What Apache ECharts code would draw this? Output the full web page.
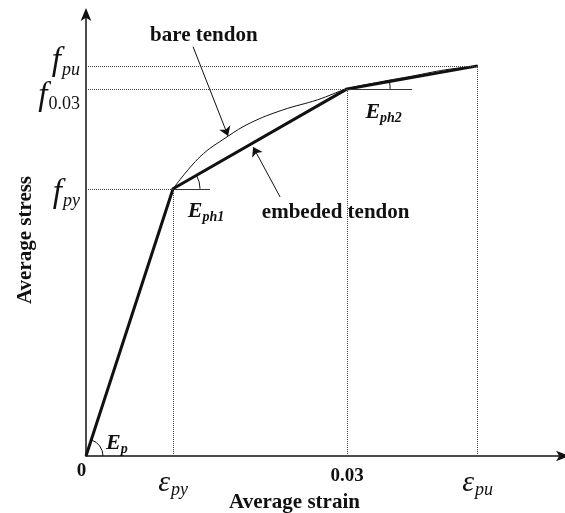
<!DOCTYPE html>
<html>
<head>
<meta charset="utf-8">
<script src="https://cdn.jsdelivr.net/npm/echarts@6/dist/echarts.min.js"></script>
<style>
  html, body { margin: 0; padding: 0; background: #fff; }
  #chart { width: 565px; height: 513px; }
</style>
</head>
<body>
<div id="chart"></div>
<script>
// tick positions (strain, normalised stress f/f_pu) and their labels
var strainTicks = [0, 0.01, 0.03, 0.045];
var strainTickLabels = ['0', 'ε_py', '0.03', 'ε_pu'];
var stressTicks = [0.685, 0.941, 1.0];
var stressTickLabels = ['f_py', 'f_0.03', 'f_pu'];

// embedded tendon: trilinear model
var embeddedStrain = [0, 0.01, 0.03, 0.045];
var embeddedStress = [0, 0.685, 0.941, 1.0];

// bare tendon: curved after yield (elastic part is shared with embedded line)
var bareStrain = [0.01, 0.0131, 0.0162, 0.0189, 0.0226, 0.0266, 0.03, 0.0338, 0.0375, 0.0413, 0.045];
var bareStress = [0.685, 0.767, 0.818, 0.854, 0.887, 0.913, 0.941, 0.959, 0.974, 0.990, 1.0];

var SERIF = '"Liberation Serif", "DejaVu Serif", serif';
var INK = '#111';

function pairs(xs, ys) {
  return xs.map(function (x, i) { return [x, ys[i]]; });
}

// 'f_py' -> '{symK|f}{subK|py}', plain numbers stay bold; K = tick index
function tickFormatter(values, labels) {
  return function (v) {
    for (var k = 0; k < values.length; k++) {
      if (Math.abs(values[k] - v) < 1e-6) {
        var s = labels[k], p = s.indexOf('_');
        if (p < 0) return '{num' + k + '|' + s + '}';
        var sub = s.slice(p + 1);
        var up = /^[0-9.]+$/.test(sub) ? 'n' : '';
        return '{sym' + k + '|' + s.slice(0, p) + '}{sub' + up + k + '|' + sub + '}';
      }
    }
    return '';
  };
}

function symStyle(size, pad) {
  return { fontFamily: SERIF, fontStyle: 'italic', fontSize: size, color: INK, padding: pad };
}
function subStyle(size, pad, upright) {
  return { fontFamily: SERIF, fontStyle: upright ? 'normal' : 'italic', fontSize: size, color: INK, padding: pad };
}
function numStyle(pad) {
  return { fontFamily: SERIF, fontWeight: 'bold', fontSize: 19, color: INK, padding: pad };
}

// angle markers: [x0, y0, x1, y1] -> arc between horizontal and line
var angleMarks = [
  [embeddedStrain[0], embeddedStress[0], embeddedStrain[1], embeddedStress[1]],
  [embeddedStrain[1], embeddedStress[1], embeddedStrain[2], embeddedStress[2]],
  [embeddedStrain[2], embeddedStress[2], embeddedStrain[3], embeddedStress[3]]
];
var arcRadius = [17, 27, 43];

var dotted = { type: 'dotted', color: '#444', width: 1 };

var chart = echarts.init(document.getElementById('chart'), null, { renderer: 'canvas' });

chart.setOption({
  backgroundColor: '#fff',
  animation: false,
  textStyle: { fontFamily: SERIF, color: INK },
  grid: { left: 86, right: 2, top: 14, bottom: 57, containLabel: false, outerBoundsMode: 'none' },
  xAxis: {
    type: 'value',
    min: 0,
    max: 0.0548,
    splitLine: { show: false },
    axisTick: { show: false },
    axisLine: {
      onZero: false,
      symbol: ['none', 'arrow'],
      symbolSize: [8, 13],
      symbolOffset: [0, 6],
      lineStyle: { color: INK, width: 1.5 }
    },
    axisLabel: {
      customValues: strainTicks,
      hideOverlap: false,
      showMinLabel: true,
      showMaxLabel: true,
      margin: 6,
      formatter: tickFormatter(strainTicks, strainTickLabels),
      rich: {
        num0: numStyle([0, 9, 6, 0]),
        num2: numStyle([5, 0, 0, 0]),
        sym1: symStyle(30, [5, 0, 0, 0]),
        sub1: subStyle(18, [19, 0, 0, 1]),
        sym3: symStyle(30, [5, 0, 0, 0]),
        sub3: subStyle(18, [19, 0, 0, 1])
      }
    },
    name: 'Average strain',
    nameLocation: 'middle',
    nameGap: 36,
    nameMoveOverlap: false,
    nameTextStyle: {
      fontFamily: SERIF, fontWeight: 'bold', fontSize: 21, color: INK,
      padding: [0, 60, 0, 0]
    }
  },
  yAxis: {
    type: 'value',
    min: 0,
    max: 1.133,
    splitLine: { show: false },
    axisTick: { show: false },
    axisLine: {
      onZero: false,
      symbol: ['none', 'arrow'],
      symbolSize: [8, 13],
      symbolOffset: [0, 6],
      lineStyle: { color: INK, width: 1.5 }
    },
    axisLabel: {
      customValues: stressTicks,
      hideOverlap: false,
      showMinLabel: true,
      showMaxLabel: true,
      margin: 6,
      formatter: tickFormatter(stressTicks, stressTickLabels),
      rich: {
        sym0: symStyle(33, [10, 0, 0, 0]),
        sub0: subStyle(18, [24, 0, 0, 1]),
        sym1: symStyle(33, [14, 0, 0, 0]),
        subn1: subStyle(18, [30, 0, 0, 1], true),
        sym2: symStyle(33, [0, 0, 10, 0]),
        sub2: subStyle(18, [8, 0, 0, 1])
      }
    },
    name: 'Average stress',
    nameLocation: 'middle',
    nameGap: 50,
    nameMoveOverlap: false,
    nameRotate: 90,
    nameTextStyle: {
      fontFamily: SERIF, fontWeight: 'bold', fontSize: 21, color: INK,
      padding: [0, 10, 0, 0]
    }
  },
  series: [
    {
      name: 'bare tendon',
      type: 'line',
      data: pairs(bareStrain, bareStress),
      smooth: 0.4,
      symbol: 'none',
      lineStyle: { color: INK, width: 1 },
      z: 3,
      markLine: {
        silent: true,
        symbol: ['none', 'arrow'],
        symbolSize: 9,
        lineStyle: { color: INK, width: 1, type: 'solid' },
        label: { show: false },
        data: [
          [{ coord: [0.0123, 1.049] }, { coord: [0.01632, 0.8205] }],
          [{ coord: [0.02230, 0.664] }, { coord: [0.0192, 0.792] }]
        ]
      },
      markPoint: {
        silent: true,
        symbol: 'circle',
        symbolSize: 0,
        label: {
          show: true,
          position: 'right',
          distance: 0,
          fontFamily: SERIF,
          fontWeight: 'bold',
          fontSize: 21,
          color: INK,
          formatter: '{b}'
        },
        data: [
          { name: 'bare tendon', coord: [0.00736, 1.078] },
          { name: 'embeded tendon', coord: [0.0202, 0.624] }
        ]
      }
    },
    {
      name: 'embedded tendon',
      type: 'line',
      data: pairs(embeddedStrain, embeddedStress),
      symbol: 'none',
      lineStyle: { color: INK, width: 3 },
      z: 4,
      markLine: {
        silent: true,
        symbol: 'none',
        label: { show: false },
        lineStyle: dotted,
        data: [
          [{ coord: [0, stressTicks[0]] }, { coord: [strainTicks[1], stressTicks[0]] }],
          [{ coord: [0, stressTicks[1]] }, { coord: [strainTicks[2], stressTicks[1]] }],
          [{ coord: [0, stressTicks[2]] }, { coord: [strainTicks[3], stressTicks[2]] }],
          [{ coord: [strainTicks[1], 0] }, { coord: [strainTicks[1], stressTicks[0]] }],
          [{ coord: [strainTicks[2], 0] }, { coord: [strainTicks[2], stressTicks[1]] }],
          [{ coord: [strainTicks[3], 0] }, { coord: [strainTicks[3], stressTicks[2]] }],
          // solid reference lines for tangent moduli
          [{ coord: [strainTicks[1], stressTicks[0]], lineStyle: { type: 'solid', color: '#333' } },
           { coord: [0.01425, stressTicks[0]] }],
          [{ coord: [strainTicks[2], stressTicks[1]], lineStyle: { type: 'solid', color: '#333' } },
           { coord: [0.03747, stressTicks[1]] }]
        ]
      },
      markPoint: {
        silent: true,
        symbol: 'circle',
        symbolSize: 0,
        label: {
          show: true,
          position: 'right',
          distance: 0,
          formatter: function (p) {
            var s = p.name.split('_');
            return '{e|' + s[0] + '}{s|' + s[1] + '}';
          },
          rich: {
            e: { fontFamily: SERIF, fontStyle: 'italic', fontWeight: 'bold', fontSize: 22, color: INK },
            s: { fontFamily: SERIF, fontStyle: 'italic', fontWeight: 'bold', fontSize: 14, color: INK, padding: [12, 0, 0, 0] }
          }
        },
        data: [
          { name: 'E_p', coord: [0.0023, 0.033] },
          { name: 'E_ph1', coord: [0.0117, 0.626] },
          { name: 'E_ph2', coord: [0.0321, 0.882] }
        ]
      }
    },
    {
      name: 'angles',
      type: 'custom',
      silent: true,
      z: 2,
      data: angleMarks,
      renderItem: function (params, api) {
        var a = api.coord([api.value(0), api.value(1)]);
        var b = api.coord([api.value(2), api.value(3)]);
        var ang = Math.atan2(b[1] - a[1], b[0] - a[0]);
        return {
          type: 'arc',
          shape: { cx: a[0], cy: a[1], r: arcRadius[params.dataIndex], startAngle: ang, endAngle: 0, clockwise: true },
          style: { stroke: INK, fill: null, lineWidth: 1 }
        };
      }
    }
  ]
});
</script>
</body>
</html>
